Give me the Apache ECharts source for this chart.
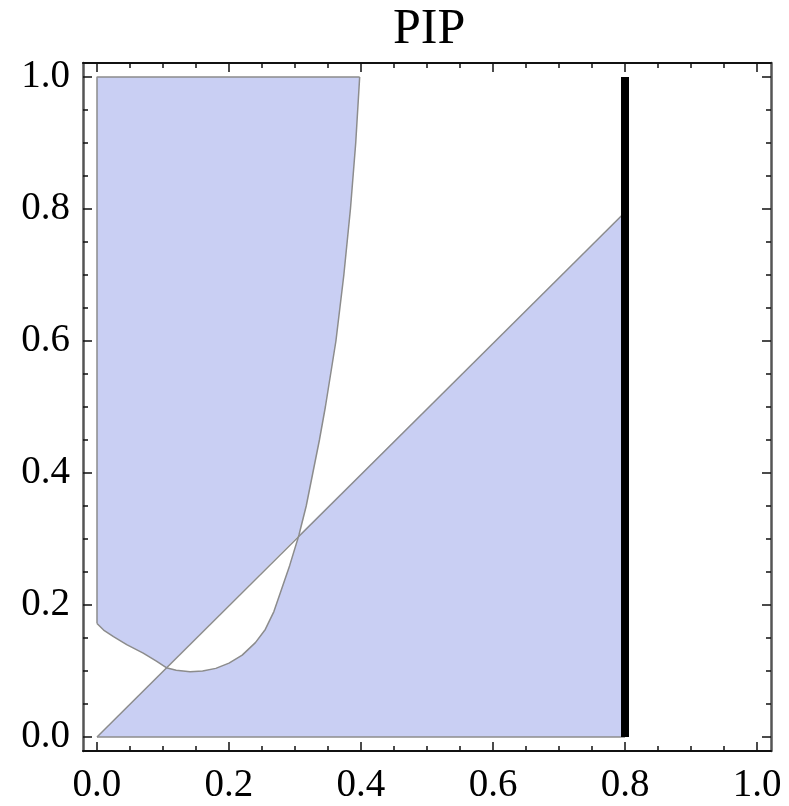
<!DOCTYPE html>
<html>
<head>
<meta charset="utf-8">
<script src="https://cdn.jsdelivr.net/npm/echarts@6/dist/echarts.min.js"></script>
<style>
html, body { margin: 0; padding: 0; background: #fff; }
#chartContainer { width: 789px; height: 806px; }
</style>
</head>
<body>
<div id="chartContainer"></div>
<script>
// curve boundary, split at its two crossings with the diagonal
const curveLeft = [[0, 0.172], [0.01, 0.162], [0.025, 0.152], [0.045, 0.14], [0.07, 0.127], [0.09, 0.115], [0.105, 0.105]];
const curveMid = [[0.105, 0.105], [0.12, 0.101], [0.141, 0.099], [0.16, 0.1], [0.18, 0.104], [0.2, 0.112],
    [0.22, 0.124], [0.24, 0.143], [0.255, 0.163], [0.268, 0.19], [0.28, 0.225], [0.292, 0.26], [0.306, 0.306]];
const curveRight = [[0.306, 0.306], [0.317, 0.35], [0.327, 0.4], [0.337, 0.45], [0.346, 0.5], [0.354, 0.55],
    [0.362, 0.6], [0.374, 0.7], [0.384, 0.8], [0.392, 0.9], [0.398, 1.0]];
// diagonal edge and the frame of the regions
const diagStart = [0, 0];
const diagEnd = [0.8, 0.795];
const topLeft = [0, 1.0];
const bottomRight = [0.8, 0];
const cutX = 0.8;

const majorVals = [0, 0.2, 0.4, 0.6, 0.8, 1.0];
const minorVals = [];
for (let i = 0; i <= 20; i++) minorVals.push(+(i * 0.05).toFixed(2));

const fillColor = '#c9cff3';
const edgeColor = '#8c8c8c';
const font = 'Liberation Serif';

let chart = null;

function polygonSeries(points) {
    return {
        type: 'custom',
        xAxisIndex: 0,
        yAxisIndex: 0,
        data: [0],
        silent: true,
        z: 1,
        renderItem: function(params, api) {
            return {
                type: 'polygon',
                shape: { points: points.map(p => api.coord(p)) },
                style: { fill: fillColor, stroke: null }
            };
        }
    };
}

function edgeSeries(points) {
    return {
        type: 'line',
        data: points,
        showSymbol: false,
        silent: true,
        z: 2,
        lineStyle: { color: edgeColor, width: 1.5 }
    };
}

function makeX(pos, major, labels) {
    return {
        type: 'value', position: pos, min: -0.0212, max: 1.0212,
        axisLine: { show: !major, onZero: false, lineStyle: { color: '#111', width: 2 } },
        axisTick: { show: true, inside: true, customValues: major ? majorVals : minorVals, length: major ? 9 : 5, lineStyle: { color: '#111', width: 1.5 } },
        axisLabel: labels ? { show: true, customValues: majorVals, margin: 15, color: '#000', fontFamily: font, fontSize: 39, formatter: v => v.toFixed(1) } : { show: false },
        splitLine: { show: false }
    };
}

function makeY(pos, major, labels) {
    return {
        type: 'value', position: pos, min: -0.0212, max: 1.0212,
        axisLine: { show: !major, onZero: false, lineStyle: { color: '#555', width: 2.5 } },
        axisTick: { show: true, inside: true, customValues: major ? majorVals : minorVals, length: major ? 9 : 5, lineStyle: { color: '#111', width: 1.5 } },
        axisLabel: labels ? { show: true, customValues: majorVals, margin: 13, color: '#000', fontFamily: font, fontSize: 39, formatter: v => v.toFixed(1) } : { show: false },
        splitLine: { show: false }
    };
}

document.addEventListener('DOMContentLoaded', function() {
    chart = echarts.init(document.getElementById('chartContainer'));

    // region above the curve, minus the part below the diagonal
    const upper = [topLeft].concat(curveLeft, [curveMid[curveMid.length - 1]], curveRight.slice(1));
    // region below the diagonal, minus the part above the curve
    const lower = [diagStart].concat(curveMid, [diagEnd, bottomRight]);

    const series = [
        polygonSeries(upper),
        polygonSeries(lower),
        edgeSeries([[0, curveLeft[0][1]], topLeft, curveRight[curveRight.length - 1]]),
        edgeSeries(curveLeft.concat(curveMid.slice(1), curveRight.slice(1))),
        edgeSeries([diagStart, diagEnd]),
        edgeSeries([diagStart, bottomRight]),
        {
            type: 'line',
            data: [[cutX, 0], [cutX, 1.0]],
            showSymbol: false,
            silent: true,
            z: 3,
            lineStyle: { color: '#000', width: 8 }
        }
    ];

    chart.setOption({
        animation: false,
        title: { text: 'PIP', left: 388, top: 0, textStyle: { fontFamily: font, fontSize: 50, fontWeight: 'normal', color: '#000' } },
        grid: { left: 83, right: 18, top: 63, bottom: 55 },
        xAxis: [makeX('bottom', false, true), makeX('bottom', true, false), makeX('top', false, false), makeX('top', true, false)],
        yAxis: [makeY('left', false, true), makeY('left', true, false), makeY('right', false, false), makeY('right', true, false)],
        series
    });
});
</script>
</body>
</html>
